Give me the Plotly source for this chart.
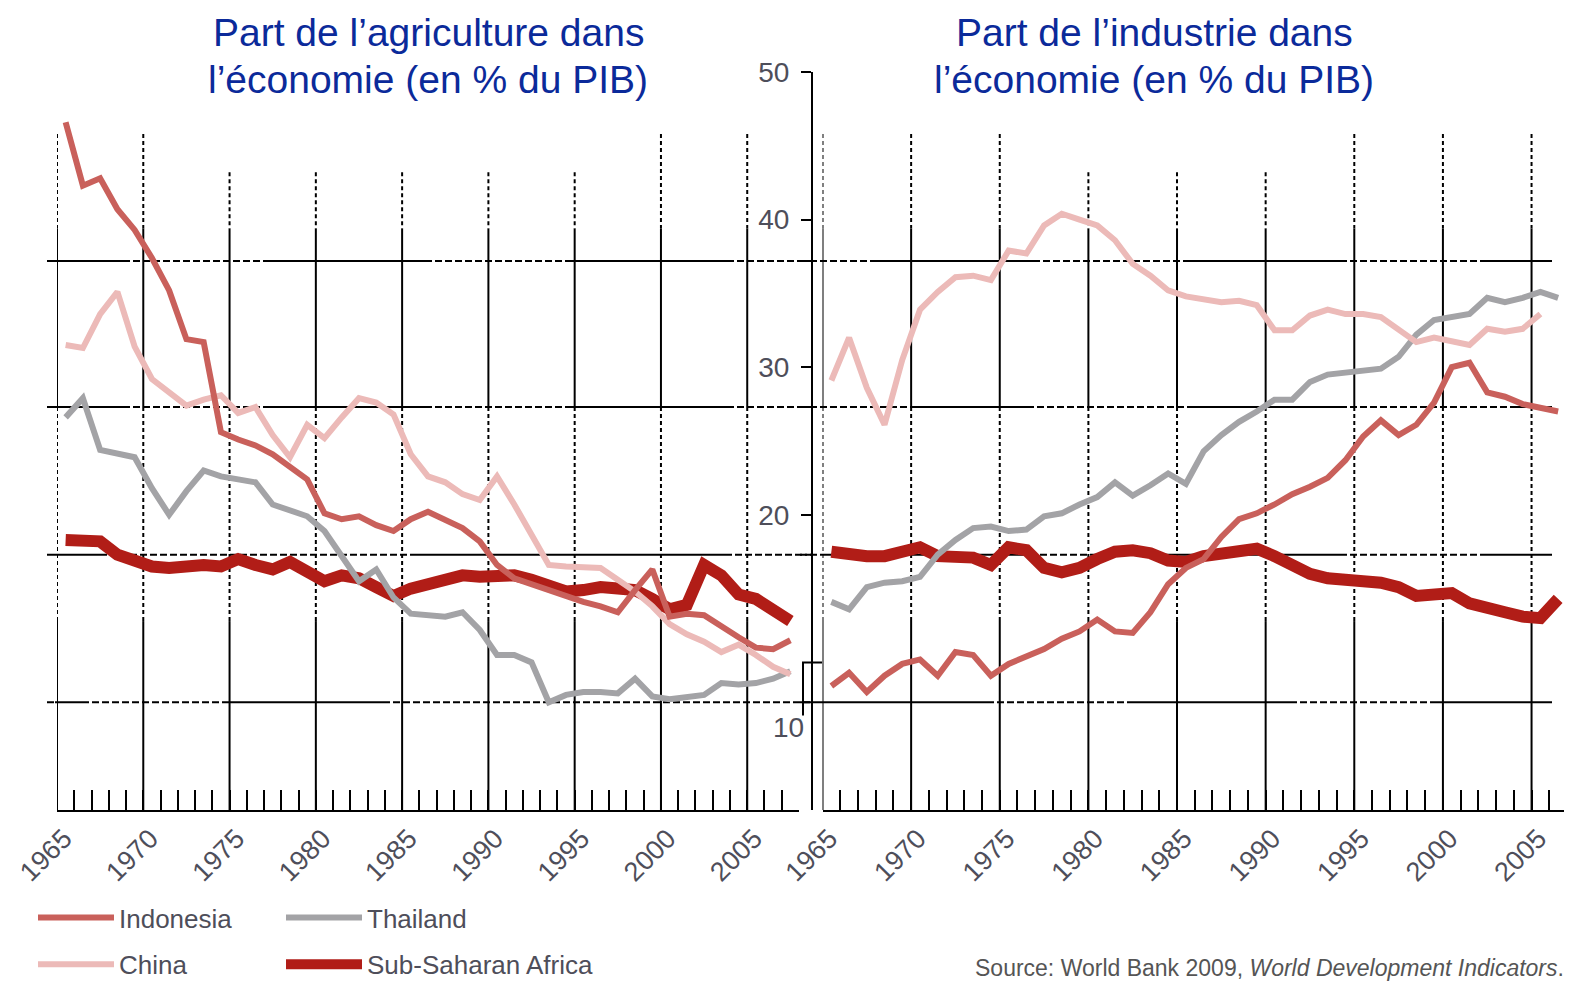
import plotly.graph_objects as go

# ---------------- data ----------------
years_agri = list(range(1965, 2008))   # left panel: agriculture share
years_ind = list(range(1965, 2007))    # right panel: industry share

agri_indonesia = [46.6, 42.3, 42.8, 40.7, 39.3, 37.4, 35.2, 31.9, 31.7, 25.6,
                  25.1, 24.7, 24.1, 23.2, 22.4, 20.1, 19.7, 19.9, 19.3, 18.9,
                  19.7, 20.2, 19.7, 19.1, 18.2, 16.6, 15.7, 15.3, 14.8, 14.5,
                  14.1, 13.8, 13.4, 14.9, 16.3, 13.1, 13.3, 13.2, 12.4, 11.7,
                  11.0, 10.9, 11.5]
agri_china = [31.5, 31.3, 33.6, 35.1, 31.4, 29.2, 28.3, 27.4, 27.8, 28.1,
              26.9, 27.3, 25.4, 23.9, 26.1, 25.2, 26.6, 27.9, 27.6, 26.8,
              24.1, 22.6, 22.2, 21.4, 21.0, 22.6, 20.7, 18.7, 16.6, 16.5,
              16.5, 16.4, 15.6, 14.8, 13.8, 12.6, 11.9, 11.4, 10.7, 11.2,
              10.5, 9.7, 9.2]
agri_thailand = [26.6, 27.9, 24.4, 24.1, 23.9, 21.8, 20.0, 21.6, 23.0, 22.6,
                 22.4, 22.2, 20.7, 20.3, 19.9, 18.9, 17.2, 15.5, 16.3, 14.4,
                 13.3, 13.2, 13.1, 13.4, 12.2, 10.5, 10.5, 10.0, 7.3, 7.8,
                 8.0, 8.0, 7.9, 8.9, 7.7, 7.5, 7.6, 7.8, 8.6, 8.5,
                 8.6, 8.9, 9.4]
agri_ssa = [18.3, 18.2, 18.2, 17.3, 16.8, 16.5, 16.4, 16.6, 16.6, 16.5,
            17.0, 16.6, 16.3, 16.8, 16.2, 15.5, 15.9, 15.7, 15.1, 14.5,
            15.0, 15.3, 15.5, 15.9, 15.8, 15.8, 15.9, 15.6, 15.1, 14.8,
            14.9, 15.1, 15.0, 14.9, 14.3, 13.6, 13.9, 16.6, 15.9, 14.6,
            14.3, 13.6, 12.8]

ind_indonesia = [8.4, 9.3, 8.0, 9.1, 9.9, 10.2, 9.1, 10.7, 10.5, 9.1,
                 9.9, 10.4, 10.9, 11.6, 12.1, 12.9, 12.1, 12.0, 13.4, 15.3,
                 16.4, 17.0, 18.5, 19.7, 20.1, 20.7, 21.4, 21.9, 22.5, 23.7,
                 25.3, 26.4, 25.4, 26.1, 27.6, 30.0, 30.3, 28.3, 28.0, 27.5,
                 27.3, 27.0]
ind_china = [29.1, 32.0, 28.6, 26.1, 30.5, 33.9, 35.1, 36.1, 36.2, 35.9,
             37.9, 37.7, 39.6, 40.4, 40.0, 39.6, 38.6, 37.0, 36.2, 35.2,
             34.8, 34.6, 34.4, 34.5, 34.2, 32.5, 32.5, 33.5, 33.9, 33.6,
             33.6, 33.4, 32.5, 31.7, 32.0, 31.8, 31.5, 32.6, 32.4, 32.6,
             33.6, None]
ind_thailand = [14.1, 13.6, 15.1, 15.4, 15.5, 15.8, 17.3, 18.3, 19.1, 19.2,
                18.9, 19.0, 19.9, 20.1, 20.7, 21.2, 22.2, 21.3, 22.0, 22.8,
                22.1, 24.3, 25.4, 26.3, 27.0, 27.8, 27.8, 29.0, 29.5, 29.6,
                29.7, 29.9, 30.7, 32.2, 33.2, 33.4, 33.6, 34.7, 34.4, 34.7,
                35.1, 34.7]
ind_ssa = [17.5, 17.3, 17.2, 17.2, 17.5, 17.8, 17.2, 17.1, 17.1, 16.6,
           17.8, 17.6, 16.4, 16.1, 16.4, 17.0, 17.5, 17.6, 17.4, 16.9,
           16.8, 17.2, 17.4, 17.6, 17.7, 17.2, 16.6, 16.0, 15.7, 15.7,
           15.5, 15.4, 15.1, 14.5, 14.7, 14.7, 14.0, 13.6, 13.4, 13.1,
           13.0, 14.3]

year_ticks = [1965, 1970, 1975, 1980, 1985, 1990, 1995, 2000, 2005]
year_ticktext = [str(y) for y in year_ticks]
value_ticks = [20, 30, 40, 50]
value_ticktext = ["20", "30", "40", "50"]

title_lines = [("Part de l’agriculture dans", "l’économie (en % du PIB)"),
               ("Part de l’industrie dans", "l’économie (en % du PIB)")]
source_text = "Source: World Bank 2009, <i>World Development Indicators</i>."

agri = {"Indonesia": agri_indonesia, "China": agri_china,
        "Thailand": agri_thailand, "Sub-Saharan Africa": agri_ssa}
ind = {"Indonesia": ind_indonesia, "China": ind_china,
       "Thailand": ind_thailand, "Sub-Saharan Africa": ind_ssa}

# ---------------- styling ----------------
PAGE_MARGIN = 8                 # browser body margin around the figure
FW, FH = 1564, 976              # figure size
TOP, BOTTOM = 72, 810           # plot area top / bottom in screen pixels
TITLE_BLUE = "#0b2a9a"
LABEL_GREY = "#4e4e5a"
FONT = "Arial, Liberation Sans, sans-serif"

style = {
    "Indonesia": dict(color="#c9605b", width=6, legend="legend", rank=1),
    "China": dict(color="#ecbab8", width=6, legend="legend", rank=2),
    "Thailand": dict(color="#a3a3a6", width=6, legend="legend2", rank=1),
    "Sub-Saharan Africa": dict(color="#b11d17", width=12, legend="legend2", rank=2),
}
draw_order = ["Sub-Saharan Africa", "Thailand", "China", "Indonesia"]


def px(x):
    return (x - PAGE_MARGIN) / FW


def py(y):
    return (BOTTOM - y) / (BOTTOM - TOP)


fig = go.Figure()

for name in draw_order:
    st = style[name]
    fig.add_trace(go.Scatter(
        x=[y + 0.5 for y in years_agri], y=agri[name], name=name,
        mode="lines", line=dict(color=st["color"], width=st["width"]),
        legend=st["legend"], legendrank=st["rank"], legendgroup=name,
        showlegend=True, xaxis="x", yaxis="y", hoverinfo="skip"))
for name in draw_order:
    st = style[name]
    fig.add_trace(go.Scatter(
        x=[y + 0.5 for y in years_ind], y=ind[name], name=name,
        mode="lines", line=dict(color=st["color"], width=st["width"]),
        showlegend=False, xaxis="x2", yaxis="y2", hoverinfo="skip",
        connectgaps=False))

# ---------------- grid (mixed solid / dashed segments as in the reference) ----------------
DOT = "4px,3px"
DASH = "7px,3px"
shapes = []

h_left = {
    37.2: [(47, 123, "s"), (123, 267, "d"), (267, 425, "s"), (425, 570, "d"), (570, 727, "s"), (727, 812, "d")],
    27.3: [(47, 123, "s"), (123, 267, "d"), (267, 425, "s"), (425, 570, "d"), (570, 727, "s"), (727, 812, "d")],
    17.3: [(47, 100, "s"), (100, 413, "d"), (413, 725, "s"), (725, 812, "d")],
    7.3: [(47, 55, "d"), (55, 82, "s"), (82, 227, "d"), (227, 383, "s"), (383, 812, "d")],
}
h_right = {
    37.2: [(800, 870, "d"), (870, 1033, "s"), (1033, 1190, "d"), (1190, 1340, "s"), (1340, 1480, "d"), (1480, 1552, "s")],
    27.3: [(800, 910, "d"), (910, 1027, "s"), (1027, 1190, "d"), (1190, 1340, "s"), (1340, 1513, "d"), (1513, 1552, "s")],
    17.3: [(800, 822, "d"), (822, 1030, "s"), (1030, 1100, "d"), (1100, 1340, "s"), (1340, 1480, "d"), (1480, 1552, "s")],
    7.3: [(800, 987, "s"), (987, 1133, "d"), (1133, 1290, "s"), (1290, 1433, "d"), (1433, 1552, "s")],
}
for yref, spec in (("y", h_left), ("y2", h_right)):
    for yv, segs in spec.items():
        for x0, x1, kind in segs:
            shapes.append(dict(type="line", xref="paper", yref=yref,
                               x0=px(x0), x1=px(x1), y0=yv, y1=yv, layer="below",
                               line=dict(color="black", width=2,
                                         dash="solid" if kind == "s" else DASH)))

v_top_left = [45.8, 45.8, 43.2, 43.2, 43.2, 43.2, 43.2, 45.8, 45.8]
v_top_right = [45.8, 45.8, 45.8, 43.2, 43.2, 43.2, 45.8, 45.8, 45.8]
for xref, yref, tops in (("x", "y", v_top_left), ("x2", "y2", v_top_right)):
    for yr, top in zip(year_ticks, tops):
        for y0, y1, kind in ((top, 39.4, "d"), (39.4, 27.3, "s"), (27.3, 12.8, "d"), (12.8, 0, "s")):
            shapes.append(dict(type="line", xref=xref, yref=yref, x0=yr, x1=yr,
                               y0=y0, y1=y1, layer="below",
                               line=dict(color="black", width=2,
                                         dash="solid" if kind == "s" else DOT)))

# small bracket near "10" on the right-hand value axis
shapes.append(dict(type="path", xref="paper", yref="y2",
                   path=f"M {px(822)},10 L {px(803)},10 L {px(803)},6.4",
                   line=dict(color="black", width=2)))

# ---------------- axes ----------------
common_x = dict(showline=True, linecolor="black", linewidth=2, showgrid=False,
                zeroline=False, ticks="inside", ticklen=20, tickwidth=2,
                tickcolor="black", tickmode="array", tickvals=year_ticks,
                ticktext=year_ticktext, tickangle=-45, automargin=False,
                ticklabeloverflow="allow", ticklabelshift=7,
                tickfont=dict(size=27, color=LABEL_GREY, family=FONT),
                minor=dict(ticks="inside", ticklen=20, tickwidth=2,
                           tickcolor="black", dtick=1, tick0=1965, showgrid=False))

legend_common = dict(orientation="v", xanchor="left", yanchor="top",
                     itemwidth=76, tracegroupgap=10, bgcolor="rgba(0,0,0,0)",
                     font=dict(size=26, color=LABEL_GREY, family=FONT))

annotations = []
for (line1, line2), cx in zip(title_lines, (428, 1154)):
    annotations.append(dict(text=line1, xref="paper", yref="paper", x=px(cx), y=py(PAGE_MARGIN + 1),
                            xanchor="center", yanchor="top", showarrow=False,
                            font=dict(size=39, color=TITLE_BLUE, family=FONT)))
    annotations.append(dict(text=line2, xref="paper", yref="paper", x=px(cx), y=py(80),
                            xanchor="center", yanchor="middle", showarrow=False,
                            font=dict(size=39, color=TITLE_BLUE, family=FONT)))
annotations.append(dict(text="10", xref="paper", yref="y2", x=px(806), y=5.6,
                        xanchor="right", yanchor="middle", showarrow=False,
                        font=dict(size=28, color=LABEL_GREY, family=FONT)))
annotations.append(dict(text=source_text, xref="paper", yref="paper", x=px(1566), y=py(968),
                        xanchor="right", yanchor="middle", showarrow=False,
                        font=dict(size=23, color="#555555", family=FONT)))

fig.update_layout(
    width=FW, height=FH,
    margin=dict(l=0, r=0, t=TOP - PAGE_MARGIN, b=FH - (BOTTOM - PAGE_MARGIN),
                pad=0, autoexpand=False),
    paper_bgcolor="white", plot_bgcolor="rgba(0,0,0,0)",
    showlegend=True,
    xaxis=dict(domain=[px(57), px(799)], range=[1965, 2008], anchor="y", **common_x),
    yaxis=dict(domain=[0, 1], range=[0, 50], anchor="x", visible=False,
               showgrid=False, zeroline=False, automargin=False),
    xaxis2=dict(domain=[px(822.5), px(1567)], range=[1965, 2007], anchor="y2", **common_x),
    yaxis2=dict(domain=[0, 1], range=[0, 50], anchor="free", position=px(812),
                showline=True, linecolor="black", linewidth=2, showgrid=False,
                zeroline=False, ticks="outside", ticklen=10, tickwidth=2,
                tickcolor="black", tickmode="array", tickvals=value_ticks,
                ticktext=value_ticktext, ticklabelstandoff=6, automargin=False,
                tickfont=dict(size=28, color=LABEL_GREY, family=FONT)),
    legend=dict(x=px(33), y=py(894), **legend_common),
    legend2=dict(x=px(281), y=py(894), **legend_common),
    shapes=shapes,
    annotations=annotations,
)

fig.write_html("out.html")
